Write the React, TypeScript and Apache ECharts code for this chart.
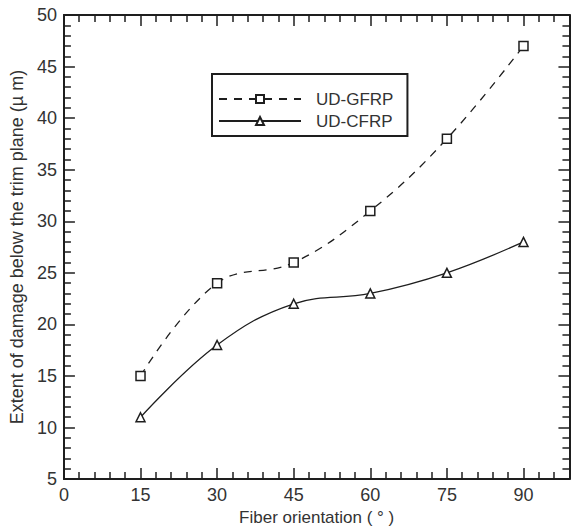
import React, { useEffect, useRef } from "react";
import * as echarts from "echarts";

const fiberAngles = [15, 30, 45, 60, 75, 90];
const gfrpDamage = [15, 24, 26, 31, 38, 47];
const cfrpDamage = [11, 18, 22, 23, 25, 28];
const seriesNames = ["UD-GFRP", "UD-CFRP"];
const xTitle = "Fiber orientation ( ° )";
const yTitle = "Extent of damage below the trim plane (µ m)";

const FONT = '"Liberation Sans", Arial, Helvetica, sans-serif';
const INK = "#1e1e1e";
const TEXT = "#333";
const X_MAX = 99;

const ghostLabel = {
  show: true,
  inside: true,
  fontSize: 1,
  margin: 0,
  color: "rgba(0,0,0,0)",
};

export default function App() {
  const ref = useRef<HTMLDivElement>(null);
  useEffect(() => {
    if (!ref.current) return;
    const chart = echarts.init(ref.current, undefined, { renderer: "svg" });
    const tick = { show: true, inside: true, length: 11, lineStyle: { color: INK, width: 1.5 } };
    const minor = { show: true, splitNumber: 5, length: 7, lineStyle: { color: INK, width: 1.5 } };
    const line = { show: true, lineStyle: { color: INK, width: 2 } };
    chart.setOption({
      animation: false,
      grid: { left: 60, right: 1, top: 15, bottom: 44 },
      xAxis: [
        {
          type: "value",
          position: "bottom",
          min: 0,
          max: X_MAX,
          interval: 15,
          splitLine: { show: false },
          axisLine: line,
          axisTick: tick,
          minorTick: minor,
          axisLabel: {
            show: true,
            fontSize: 18,
            margin: 7,
            color: TEXT,
            fontFamily: FONT,
            formatter: (v: number) => (v % 15 === 0 ? String(v) : "{g|" + v + "}"),
            rich: { g: { fontSize: 1, color: "rgba(0,0,0,0)" } },
          },
          name: xTitle,
          nameLocation: "middle",
          nameGap: 25,
          nameTextStyle: { fontSize: 17, color: TEXT, fontFamily: FONT },
        },
        {
          type: "value",
          position: "top",
          min: 0,
          max: X_MAX,
          interval: 15,
          splitLine: { show: false },
          axisLine: line,
          axisTick: tick,
          minorTick: minor,
          axisLabel: ghostLabel,
        },
      ],
      yAxis: [
        {
          type: "value",
          position: "left",
          min: 5,
          max: 50,
          interval: 5,
          splitLine: { show: false },
          axisLine: { ...line, onZero: false },
          axisTick: tick,
          minorTick: minor,
          axisLabel: { show: true, fontSize: 18, margin: 7, color: TEXT, fontFamily: FONT },
          name: yTitle,
          nameLocation: "middle",
          nameGap: 33,
          nameRotate: 90,
          nameTextStyle: { fontSize: 18, color: TEXT, fontFamily: FONT },
        },
        {
          type: "value",
          position: "right",
          min: 5,
          max: 50,
          interval: 5,
          splitLine: { show: false },
          axisLine: { ...line, onZero: false },
          axisTick: tick,
          minorTick: minor,
          axisLabel: ghostLabel,
        },
      ],
      legend: {
        left: 212,
        top: 74,
        orient: "vertical",
        borderColor: INK,
        borderWidth: 2,
        padding: [14, 14, 4, 6],
        itemGap: 0,
        itemWidth: 82,
        itemHeight: 10,
        textStyle: {
          fontSize: 17,
          lineHeight: 22,
          color: TEXT,
          fontFamily: FONT,
          padding: [0, 0, 0, 10],
        },
        data: seriesNames,
      },
      series: [
        {
          name: seriesNames[0],
          type: "line",
          xAxisIndex: 0,
          yAxisIndex: 0,
          data: fiberAngles.map((a, i) => [a, gfrpDamage[i]]),
          smooth: 0.4,
          symbol: "rect",
          symbolSize: 9,
          lineStyle: { color: INK, width: 1.3, type: [8, 7] },
          itemStyle: { color: "#fff", borderColor: INK, borderWidth: 1.5 },
          z: 3,
        },
        {
          name: seriesNames[1],
          type: "line",
          xAxisIndex: 0,
          yAxisIndex: 0,
          data: fiberAngles.map((a, i) => [a, cfrpDamage[i]]),
          smooth: 0.4,
          symbol: "triangle",
          symbolSize: 9,
          lineStyle: { color: INK, width: 1.3, type: "solid" },
          itemStyle: { color: "#fff", borderColor: INK, borderWidth: 1.5 },
          z: 3,
        },
      ],
    });
    return () => chart.dispose();
  }, []);
  return (
    <div
      ref={ref}
      style={{ position: "fixed", left: 0, top: 0, width: 573, height: 531, background: "#fff" }}
    />
  );
}
